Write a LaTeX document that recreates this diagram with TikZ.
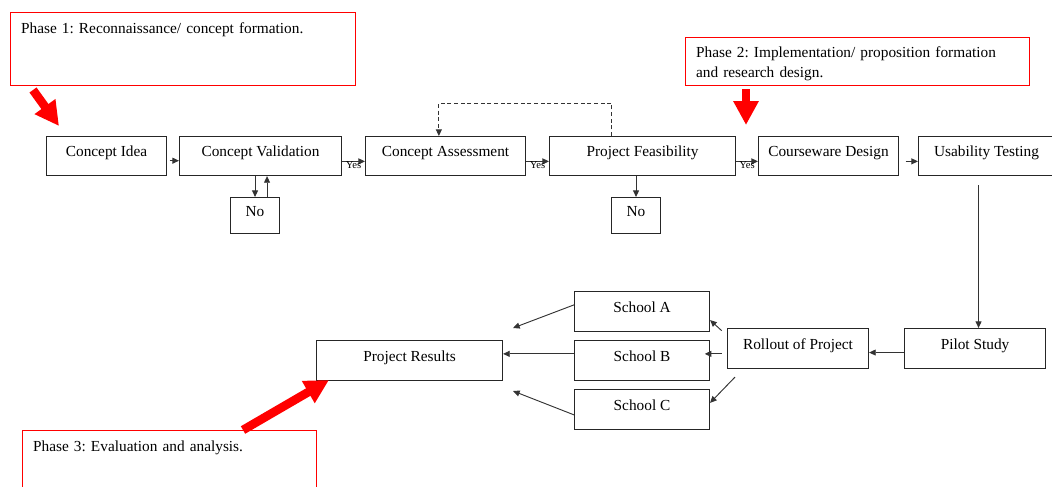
\documentclass[tikz,border=0pt]{standalone}
\usepackage{fontspec}
\setmainfont{Liberation Serif}
\usetikzlibrary{arrows.meta,positioning}

\begin{document}
\frenchspacing
\begin{tikzpicture}[
  x=0.75pt, y=-0.75pt,
  >={Triangle[length=5pt,width=4.5pt]},
  every node/.style={font=\fontsize{11.5}{15}\selectfont},
  box/.style={draw=black!85, line width=0.8pt, anchor=north west,
              inner sep=0pt, text height=7.5pt, text depth=6.5pt,
              minimum height=29.25pt, align=center},
  phase/.style={draw=red, line width=0.6pt, anchor=north west, align=left,
                inner xsep=8pt, inner ysep=8.25pt, text height=7.5pt},
  link/.style={->, draw=black!80, line width=0.7pt},
  yes/.style={font=\fontsize{8}{8}\selectfont, inner sep=0pt, yshift=-2.5pt},
  pointer/.style={draw=red, line width=#1, -{Triangle[length=18pt,width=18pt]}}
]
  \useasboundingbox (0,0) rectangle (1052,486);

  \node[phase, text width=242.75pt, text depth=30.75pt] (phase1) at (10,12)
    {Phase 1: Reconnaissance/ concept formation.};
  \node[phase, inner ysep=7.5pt, text width=242pt, text depth=13.5pt] (phase2) at (685,37)
    {Phase 2: Implementation/ proposition formation\\and research design.};
  \node[phase, text width=204.5pt, text depth=21pt] (phase3) at (22,430)
    {Phase 3: Evaluation and analysis.};

  \node[box, minimum width=90pt] (idea) at (46,136) {Concept Idea};
  \node[box, minimum width=121.5pt, right=8.95pt of idea] (valid) {Concept Validation};
  \node[box, minimum width=120pt, right=17.2pt of valid] (assess) {Concept Assessment};
  \node[box, minimum width=139.5pt, right=17.2pt of assess] (feas) {Project Feasibility};
  \node[box, minimum width=105pt, right=16.45pt of feas] (design) {Courseware Design};
  \node[box, minimum width=102pt, right=14.2pt of design] (usab) {Usability Testing};
  \node[box, minimum width=36.75pt, minimum height=27pt] (no1) at (230,197) {No};
  \node[box, minimum width=36.75pt, minimum height=27pt] (no2) at (611,197) {No};

  \node[box, minimum width=105.75pt, minimum height=30pt] (pilot) at (904,328) {Pilot Study};
  \node[box, minimum width=105.75pt, minimum height=30pt, left=26.2pt of pilot] (rollout) {Rollout of Project};
  \node[box, minimum width=101.25pt, minimum height=30pt] (schoolA) at (574,291) {School A};
  \node[box, minimum width=101.25pt, minimum height=30pt, below=5.95pt of schoolA] (schoolB) {School B};
  \node[box, minimum width=101.25pt, minimum height=30pt, below=5.95pt of schoolB] (schoolC) {School C};
  \node[box, minimum width=139.5pt, minimum height=30pt, left=53.2pt of schoolB] (results) {Project Results};

  \draw[link, shorten <=2pt] ([yshift=-3.5pt]idea.east) -- ([yshift=-3.5pt]valid.west);
  \draw[link] ([yshift=-4pt]valid.east) -- node[yes] {Yes} ([yshift=-4pt]assess.west);
  \draw[link] ([yshift=-4pt]assess.east) -- node[yes] {Yes} ([yshift=-4pt]feas.west);
  \draw[link] ([yshift=-4pt]feas.east) -- node[yes] {Yes} ([yshift=-4pt]design.west);
  \draw[link, shorten <=5pt] ([yshift=-4pt]design.east) -- ([yshift=-4pt]usab.west);

  \draw[link] (valid.south -| no1.north) -- (no1.north);
  \draw[link] ([xshift=9pt]no1.north) -- ([xshift=9pt]no1.north |- valid.south);
  \draw[link] (feas.south -| no2.north) -- (no2.north);
  \draw[link, dash pattern=on 3pt off 2pt] ([xshift=-23.25pt]feas.north) -- ++(0,-33)
    -| ([xshift=-5pt]assess.north);

  \draw[link, shorten <=7pt] ([xshift=-6pt]usab.south) -- ([xshift=-6pt]usab.south |- pilot.north);
  \draw[link] ([yshift=-3pt]pilot.west) -- ([yshift=-3pt]pilot.west -| rollout.east);
  \draw[link] ([shift={(-4pt,-2pt)}]rollout.north west) -- ([yshift=9pt]schoolA.south east);
  \draw[link] ([shift={(-4pt,-4pt)}]rollout.west) -- ([shift={(-4pt,-4pt)}]rollout.west -| schoolB.east);
  \draw[link] ([shift={(6pt,-6pt)}]rollout.south west) -- ([yshift=5pt]schoolC.east);

  \coordinate (intoA) at (513,328);
  \coordinate (intoC) at (513,391);
  \draw[link] ([yshift=5pt]schoolA.west) -- (intoA);
  \draw[link] ([yshift=5pt]schoolB.west) -- ([yshift=5pt]results.east);
  \draw[link] ([yshift=-4pt]schoolC.west) -- (intoC);

  \coordinate (tail1) at (33,90);
  \coordinate (head1) at (59,126);
  \coordinate (tail2) at (746,89);
  \coordinate (head2) at (746,125);
  \coordinate (tail3) at (243,430);
  \coordinate (head3) at (329,380);
  \draw[pointer=6.5pt] (tail1) -- (head1);
  \draw[pointer=6pt] (tail2) -- (head2);
  \draw[pointer=6.5pt] (tail3) -- (head3);
\end{tikzpicture}
\end{document}
